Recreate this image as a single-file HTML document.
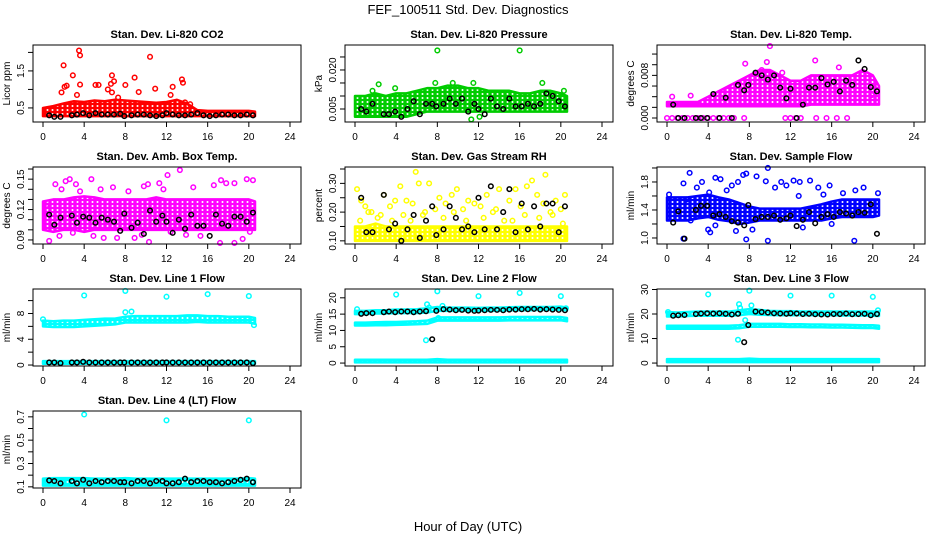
<!DOCTYPE html>
<html><head><meta charset="utf-8"><style>
body{margin:0;background:#fff;width:936px;height:540px;overflow:hidden}
svg{display:block;font-family:"Liberation Sans",Arial,sans-serif}
</style></head><body>
<svg id="chart" width="936" height="540" viewBox="0 0 936 540" xmlns="http://www.w3.org/2000/svg">
<defs id="defs"></defs>
<text x="468" y="14" text-anchor="middle" font-size="13">FEF_100511  Std. Dev. Diagnostics</text>
<text x="468" y="531" text-anchor="middle" font-size="13">Hour of Day (UTC)</text>
</svg>
<script>
// ---- shared ----
const xTicks=[0,4,8,12,16,20,24];
const bandHours=[0,1,2,3,4,5,6,7,8,9,10,11,12,13,14,15,16,17,18,19,20,20.6];
const blackHours=[0.6,1.1,1.7,2.8,3.3,3.9,4.5,5.1,5.7,6.3,6.9,7.5,7.9,8.6,9.2,9.8,10.4,11.0,11.6,12.0,12.6,13.2,13.8,14.4,15.0,15.6,16.2,16.8,17.4,18.0,18.6,19.2,19.8,20.4];

// ---- P1 CO2 ----
const co2Lo=[0.28,0.28,0.28,0.28,0.28,0.28,0.28,0.28,0.28,0.28,0.28,0.28,0.28,0.28,0.28,0.28,0.28,0.28,0.28,0.28,0.28,0.28];
const co2Hi=[0.5,0.55,0.62,0.68,0.66,0.7,0.68,0.72,0.7,0.68,0.66,0.64,0.66,0.72,0.62,0.44,0.42,0.42,0.42,0.42,0.42,0.4];
const co2OutH=[3.5,3.6,2.0,2.9,3.6,2.3,2.1,1.8,5.1,5.4,6.7,6.9,6.6,6.3,6.7,8.0,8.9,10.4,10.9,12.6,13.5,13.6,3.3,7.3,9.3,12.4,14.3,13.8];
const co2OutV=[2.05,1.92,1.65,1.38,1.13,1.1,1.07,0.92,1.12,1.12,1.38,1.22,1.15,1.0,0.92,1.12,1.32,1.88,1.02,1.07,1.27,1.18,0.85,0.78,0.93,0.85,0.6,0.65];
const co2Black=[0.3,0.26,0.26,0.3,0.32,0.36,0.3,0.36,0.32,0.32,0.32,0.34,0.28,0.3,0.32,0.32,0.3,0.28,0.3,0.36,0.32,0.3,0.3,0.32,0.36,0.3,0.28,0.3,0.32,0.32,0.3,0.3,0.32,0.3];

// ---- P2 Pressure ----
const presLo=[0.002,0.002,0.002,0.002,0.002,0.002,0.003,0.004,0.004,0.004,0.004,0.004,0.004,0.004,0.004,0.004,0.004,0.004,0.004,0.004,0.004,0.004];
const presHi=[0.010,0.010,0.011,0.010,0.011,0.011,0.012,0.013,0.013,0.014,0.014,0.013,0.013,0.012,0.012,0.012,0.011,0.011,0.012,0.012,0.011,0.010];
const presOutH=[8,16,2.3,18.2,11.3,12.1,3.9,7.8,1.7,20.3,9.5,11.5];
const presOutV=[0.0275,0.0275,0.0145,0.015,0.001,0.002,0.013,0.015,0.012,0.012,0.015,0.015];
const presBlack=[0.005,0.004,0.007,0.003,0.003,0.004,0.002,0.005,0.008,0.003,0.007,0.007,0.006,0.007,0.009,0.007,0.009,0.004,0.007,0.005,0.003,0.009,0.006,0.005,0.009,0.006,0.006,0.007,0.006,0.007,0.011,0.010,0.008,0.006];

// ---- P3 Li-820 Temp ----
const tempLo=[0.0022,0.0022,0.0022,0.0022,0.0022,0.0022,0.0022,0.0022,0.0022,0.0022,0.0022,0.0022,0.0022,0.0022,0.0025,0.0025,0.0025,0.0025,0.0025,0.0025,0.0025,0.0025];
const tempHi=[0.003,0.003,0.003,0.003,0.004,0.005,0.006,0.007,0.008,0.009,0.009,0.008,0.007,0.007,0.008,0.008,0.008,0.008,0.008,0.009,0.008,0.006];
const tempZeroH=[0,0.5,1,1.5,2,2.5,3,3.5,4,4.5,5,5.5,6,6.5,7.5,11.5,12,12.5,13,14.5,15.5,16.5,17.5];
const tempZeroV=[0,0,0,0,0,0,0,0,0,0,0,0,0,0,0,0,0,0,0,0,0,0,0];
const tempOutH=[10,9.7,14.4,7.6,9.2,11.2,19.9,16.7,0.5,2.3];
const tempOutV=[0.0135,0.0105,0.0108,0.0102,0.009,0.0085,0.0043,0.0095,0.004,0.0042];
const tempBlack=[0.0025,0,0,0,0,0,0.0045,0,0.0038,0,0.0062,0.0052,0.0062,0.0085,0.008,0.0072,0.008,0.0057,0.0037,0.0055,0,0.0025,0.0057,0.0057,0.0075,0.0063,0.0068,0.005,0.007,0.0062,0.0108,0.0092,0.0058,0.005];

// ---- P4 Amb box temp ----
const ambLo=[0.100,0.098,0.100,0.100,0.098,0.100,0.100,0.100,0.100,0.100,0.100,0.100,0.100,0.100,0.100,0.100,0.100,0.100,0.100,0.100,0.100,0.100];
const ambHi=[0.128,0.13,0.13,0.132,0.133,0.132,0.13,0.13,0.13,0.13,0.13,0.132,0.13,0.13,0.13,0.13,0.13,0.13,0.13,0.13,0.13,0.128];
const ambOutH=[0.6,1.2,2.2,2.6,3.2,4.7,5.6,6.8,8.3,9.8,10.2,11.3,12.1,13.3,14.6,16.6,17.3,17.8,18.6,19.8,20.4,0.3,1.6,2.9,4.9,5.9,7.2,9.6,10.3,12.4,13.9,15.3,17.2,18.6,19.4,20.1,1.8,3.6,8.9,11.7];
const ambOutV=[0.089,0.145,0.148,0.15,0.145,0.15,0.14,0.142,0.138,0.143,0.145,0.146,0.154,0.159,0.142,0.144,0.149,0.146,0.146,0.15,0.149,0.124,0.094,0.097,0.094,0.092,0.092,0.095,0.088,0.098,0.095,0.094,0.087,0.087,0.091,0.098,0.14,0.138,0.092,0.14];
const ambBlack=[0.115,0.105,0.112,0.114,0.107,0.113,0.112,0.107,0.112,0.11,0.108,0.099,0.116,0.102,0.107,0.096,0.119,0.108,0.114,0.108,0.097,0.11,0.101,0.115,0.104,0.104,0.094,0.115,0.106,0.104,0.113,0.113,0.108,0.117];

// ---- P5 Gas stream RH ----
const rhLo=[0.10,0.10,0.10,0.10,0.10,0.10,0.10,0.10,0.10,0.10,0.10,0.10,0.10,0.10,0.10,0.10,0.10,0.10,0.10,0.10,0.10,0.10];
const rhHi=[0.15,0.15,0.16,0.15,0.15,0.15,0.15,0.15,0.15,0.15,0.15,0.15,0.15,0.15,0.15,0.15,0.15,0.15,0.15,0.15,0.15,0.15];
const rhOutH=[0.2,0.6,1.0,1.6,2.2,2.8,3.4,3.9,4.4,5.0,5.6,5.9,6.2,6.6,7.2,7.8,8.2,8.8,9.4,9.9,10.5,11.0,11.6,12.2,12.8,13.4,14.0,14.5,15.0,15.6,16.1,16.7,17.2,17.7,18.3,18.5,19.0,19.5,20.0,20.4,0.5,1.3,2.5,3.6,4.7,5.4,6.8,8.6,9.6,10.8,12.5,13.7,15.3,16.5,17.9,19.2,20.2];
const rhOutV=[0.28,0.24,0.22,0.2,0.18,0.26,0.22,0.24,0.29,0.24,0.23,0.34,0.3,0.19,0.3,0.21,0.25,0.23,0.26,0.28,0.21,0.24,0.23,0.22,0.26,0.2,0.28,0.17,0.24,0.28,0.22,0.29,0.31,0.26,0.23,0.33,0.2,0.24,0.21,0.26,0.17,0.2,0.19,0.17,0.19,0.17,0.2,0.18,0.2,0.17,0.18,0.21,0.17,0.19,0.18,0.19,0.16];
const rhBlack=[0.25,0.13,0.13,0.26,0.14,0.16,0.10,0.14,0.19,0.11,0.17,0.22,0.12,0.14,0.22,0.18,0.14,0.15,0.13,0.25,0.14,0.29,0.14,0.20,0.28,0.13,0.23,0.14,0.22,0.15,0.23,0.23,0.13,0.22];

// ---- P6 Sample flow ----
const sfLo=[1.25,1.25,1.25,1.28,1.3,1.26,1.24,1.2,1.22,1.25,1.25,1.25,1.25,1.25,1.25,1.25,1.28,1.3,1.3,1.3,1.3,1.32];
const sfHi=[1.58,1.58,1.58,1.6,1.62,1.58,1.55,1.5,1.45,1.42,1.42,1.42,1.42,1.42,1.45,1.48,1.52,1.55,1.55,1.55,1.55,1.55];
const sfOutH=[0.2,1.6,2.2,1.9,2.9,3.4,4.1,4.7,5.2,5.8,6.3,6.9,7.4,7.7,8.7,9.6,9.8,10.5,11.1,11.6,12.3,12.9,13.9,14.7,15.8,17.1,18.3,19.1,20.5,1.6,4.0,4.2,7.7,9.8,18.2,2.3,4.7,6.7,8.3,13.2,16.0,12.8,15.2];
const sfOutV=[1.62,1.78,1.93,1.55,1.72,1.8,1.65,1.86,1.84,1.68,1.75,1.8,1.9,1.92,1.88,1.81,2.0,1.72,1.8,1.75,1.82,1.8,1.82,1.72,1.75,1.64,1.68,1.72,1.64,0.99,1.12,1.08,0.98,0.96,0.96,1.25,1.18,1.1,1.12,1.15,1.2,1.6,1.62];
const sfBlack=[1.22,1.38,0.99,1.4,1.46,1.46,1.32,1.34,1.3,1.24,1.22,1.18,1.47,1.27,1.3,1.3,1.32,1.26,1.28,1.32,1.17,1.26,1.37,1.21,1.3,1.34,1.3,1.37,1.35,1.32,1.37,1.36,1.48,1.06];

// ---- P7 Line 1 flow ----
const l1Lo=[6.0,5.9,5.9,5.9,6.0,6.1,6.2,6.3,6.6,6.6,6.6,6.6,6.6,6.6,6.6,6.7,6.6,6.6,6.6,6.6,6.6,6.4];
const l1Hi=[6.9,6.8,6.9,6.9,7.0,7.1,7.2,7.2,7.5,7.6,7.6,7.6,7.6,7.6,7.7,7.7,7.6,7.6,7.5,7.5,7.5,7.3];
const l1BaseLo=[0.2,0.2,0.2,0.2,0.2,0.2,0.2,0.2,0.2,0.2,0.2,0.2,0.2,0.2,0.2,0.2,0.2,0.2,0.2,0.2,0.2,0.2];
const l1BaseHi=[0.6,0.6,0.6,0.6,0.6,0.6,0.6,0.6,0.6,0.6,0.6,0.6,0.6,0.6,0.6,0.6,0.6,0.6,0.6,0.6,0.6,0.6];
const l1OutH=[4,8,12,16,20,8,8.6,0,20.5];
const l1OutV=[10.8,11.5,10.6,11.0,10.7,8.2,8.3,7.1,6.2];
const l1Black=[0.4,0.4,0.3,0.4,0.4,0.5,0.4,0.4,0.4,0.4,0.4,0.4,0.4,0.4,0.4,0.4,0.4,0.4,0.4,0.4,0.4,0.4,0.4,0.4,0.4,0.4,0.4,0.4,0.4,0.4,0.4,0.4,0.4,0.3];

// ---- P8 Line 2 flow ----
const l2UpLo=[15.0,15.0,15.2,15.2,15.3,15.3,15.3,15.5,16.0,16.0,16.0,16.0,16.0,16.0,16.0,16.2,16.2,16.2,16.3,16.3,16.3,16.2];
const l2UpHi=[16.0,16.0,16.2,16.2,16.4,16.4,16.5,16.8,17.2,17.0,17.0,17.0,16.9,17.0,17.0,17.1,17.2,17.2,17.2,17.2,17.3,17.0];
const l2MidLo=[11.5,11.5,11.6,11.6,11.7,11.8,11.9,12.0,13.0,13.0,13.0,13.0,13.0,13.0,13.0,13.1,13.1,13.1,13.1,13.1,13.1,12.8];
const l2MidHi=[12.4,12.4,12.5,12.6,12.6,12.7,12.8,13.0,14.0,14.0,14.0,14.0,14.0,14.0,14.0,14.1,14.1,14.1,14.1,14.1,14.1,13.8];
const l2BaseLo=[0.2,0.2,0.2,0.2,0.2,0.2,0.2,0.2,0.2,0.2,0.2,0.2,0.2,0.2,0.2,0.2,0.2,0.2,0.2,0.2,0.2,0.2];
const l2BaseHi=[1.0,1.0,1.0,1.0,1.0,1.0,1.0,1.0,1.2,1.0,1.0,1.0,1.0,1.0,1.0,1.0,1.0,1.0,1.0,1.0,1.0,1.0];
const l2OutH=[4,8,12,16,20,7,7.2,6.9,8.5,0.2,20.5,8.1];
const l2OutV=[21,22,20.5,21.5,20.5,18,17,7,17.5,16.5,16.8,13.8];
const l2Black=[15.1,15.3,15.3,15.6,15.8,15.6,15.8,15.8,15.6,15.8,15.9,7.3,16.0,16.5,16.4,16.2,16.3,16.1,16.0,16.1,16.2,16.3,16.3,16.2,16.4,16.4,16.5,16.5,16.6,16.4,16.5,16.4,16.3,16.2];

// ---- P9 Line 3 flow ----
const l3UpLo=[19.0,19.0,19.2,19.3,19.3,19.3,19.3,19.5,20.0,19.7,19.6,19.5,19.5,19.5,19.5,19.5,19.5,19.4,19.4,19.4,19.3,19.2];
const l3UpHi=[20.8,20.6,20.8,21.0,21.0,21.0,21.0,21.5,22.0,21.7,21.3,21.2,21.2,21.0,21.0,21.0,21.0,21.0,21.0,21.0,21.0,21.0];
const l3MidLo=[14.0,14.0,14.0,14.0,14.0,14.0,14.0,14.2,14.8,14.8,14.8,14.8,14.7,14.7,14.6,14.6,14.5,14.5,14.4,14.3,14.3,14.0];
const l3MidHi=[15.2,15.2,15.2,15.2,15.2,15.2,15.2,15.4,16.0,16.0,16.0,16.0,15.8,15.8,15.7,15.7,15.6,15.6,15.5,15.4,15.4,15.2];
const l3BaseLo=[0.4,0.4,0.4,0.4,0.4,0.4,0.4,0.4,0.4,0.4,0.4,0.4,0.4,0.4,0.4,0.4,0.4,0.4,0.4,0.4,0.4,0.4];
const l3BaseHi=[1.6,1.6,1.6,1.6,1.6,1.6,1.6,1.6,1.8,1.6,1.6,1.6,1.6,1.6,1.6,1.6,1.6,1.6,1.6,1.6,1.6,1.6];
const l3OutH=[4,8,12,16,20,7,7.1,6.9,8.2,7.6,0.1,20.5];
const l3OutV=[28,29.5,27.5,27.5,27,24,22.5,9.5,23.5,17.5,20.8,21.5];
const l3Black=[19.3,19.5,19.6,20.0,20.2,20.3,20.2,20.3,20.1,19.8,20.1,8.5,15.5,21.0,20.8,20.6,20.3,20.2,20.1,20.3,20.2,20.0,20.1,19.9,19.8,19.8,20.0,20.0,20.2,19.9,20.0,20.1,19.5,20.0];

// ---- P10 Line 4 flow ----
const l4Lo=[0.11,0.11,0.11,0.11,0.11,0.11,0.11,0.11,0.11,0.11,0.11,0.11,0.11,0.11,0.11,0.11,0.11,0.11,0.11,0.11,0.11,0.11];
const l4Hi=[0.17,0.175,0.175,0.175,0.175,0.17,0.17,0.17,0.175,0.17,0.17,0.17,0.17,0.17,0.17,0.17,0.17,0.17,0.17,0.17,0.175,0.17];
const l4OutH=[4,12,20];
const l4OutV=[0.72,0.67,0.67];
const l4Black=[0.155,0.15,0.13,0.15,0.13,0.16,0.13,0.15,0.14,0.15,0.15,0.14,0.14,0.13,0.15,0.15,0.13,0.15,0.15,0.13,0.13,0.14,0.17,0.14,0.15,0.15,0.14,0.14,0.13,0.14,0.15,0.16,0.17,0.14];

const panels=[
 {name:"co2",title:"Stan. Dev. Li-820 CO2",ylab:"Licor ppm",col:0,row:0,ymin:0.12,ymax:2.2,ticks:[0.5,1.0,1.5,2.0],labels:["0.5","","1.5",""],color:"#ff0000",
  bands:[[co2Lo,co2Hi]],outs:[[co2OutH,co2OutV]],black:co2Black},
 {name:"pressure",title:"Stan. Dev. Li-820 Pressure",ylab:"kPa",col:1,row:0,ymin:0.0,ymax:0.0296,ticks:[0.005,0.010,0.015,0.020,0.025],labels:["0.005","","","0.020",""],color:"#00cc00",
  bands:[[presLo,presHi]],outs:[[presOutH,presOutV]],black:presBlack},
 {name:"li820-temp",title:"Stan. Dev. Li-820 Temp.",ylab:"degrees C",col:2,row:0,ymin:-0.00075,ymax:0.0137,ticks:[0,0.002,0.004,0.006,0.008,0.010,0.012],labels:["0.000","","","","0.008","",""],color:"#ff00ff",
  bands:[[tempLo,tempHi]],outs:[[tempZeroH,tempZeroV],[tempOutH,tempOutV]],black:tempBlack},
 {name:"amb-box-temp",title:"Stan. Dev. Amb. Box Temp.",ylab:"degrees C",col:0,row:1,ymin:0.086,ymax:0.162,ticks:[0.09,0.10,0.11,0.12,0.13,0.14,0.15,0.16],labels:["0.09","","","0.12","","","0.15",""],color:"#ff00ff",
  bands:[[ambLo,ambHi]],outs:[[ambOutH,ambOutV]],black:ambBlack},
 {name:"gas-stream-rh",title:"Stan. Dev. Gas Stream RH",ylab:"percent",col:1,row:1,ymin:0.089,ymax:0.357,ticks:[0.10,0.15,0.20,0.25,0.30,0.35],labels:["0.10","","0.20","","0.30",""],color:"#ffff00",
  bands:[[rhLo,rhHi]],outs:[[rhOutH,rhOutV]],black:rhBlack},
 {name:"sample-flow",title:"Stan. Dev. Sample Flow",ylab:"ml/min",col:2,row:1,ymin:0.914,ymax:2.014,ticks:[1.0,1.2,1.4,1.6,1.8,2.0],labels:["1.0","","1.4","","1.8",""],color:"#0000ff",
  bands:[[sfLo,sfHi]],outs:[[sfOutH,sfOutV]],black:sfBlack},
 {name:"line1-flow",title:"Stan. Dev. Line 1 Flow",ylab:"ml/min",col:0,row:2,ymin:-0.15,ymax:11.8,ticks:[0,2,4,6,8,10],labels:["0","","4","","8",""],color:"#00ffff",
  bands:[[l1Lo,l1Hi],[l1BaseLo,l1BaseHi]],outs:[[l1OutH,l1OutV]],black:l1Black},
 {name:"line2-flow",title:"Stan. Dev. Line 2 Flow",ylab:"ml/min",col:1,row:2,ymin:-0.9,ymax:22.7,ticks:[0,5,10,15,20],labels:["0","5","10","15","20"],color:"#00ffff",
  bands:[[l2UpLo,l2UpHi],[l2MidLo,l2MidHi],[l2BaseLo,l2BaseHi]],outs:[[l2OutH,l2OutV]],black:l2Black},
 {name:"line3-flow",title:"Stan. Dev. Line 3 Flow",ylab:"ml/min",col:2,row:2,ymin:-1.2,ymax:30.2,ticks:[0,10,20,30],labels:["0","10","20","30"],color:"#00ffff",
  bands:[[l3UpLo,l3UpHi],[l3MidLo,l3MidHi],[l3BaseLo,l3BaseHi]],outs:[[l3OutH,l3OutV]],black:l3Black},
 {name:"line4-flow",title:"Stan. Dev. Line 4 (LT) Flow",ylab:"ml/min",col:0,row:3,ymin:0.09,ymax:0.75,ticks:[0.1,0.2,0.3,0.4,0.5,0.6,0.7],labels:["0.1","","0.3","","0.5","","0.7"],color:"#00ffff",
  bands:[[l4Lo,l4Hi]],outs:[[l4OutH,l4OutV]],black:l4Black}
];

const NS="http://www.w3.org/2000/svg";
const svg=document.getElementById('chart');
const defs=document.getElementById('defs');
function mk(tag,attrs,parent){const e=document.createElementNS(NS,tag);for(const k in attrs)e.setAttribute(k,attrs[k]);(parent||svg).appendChild(e);return e;}

panels.forEach(p=>{
  const left=33+312*p.col, w=268, top=45+122*p.row, h=77, bottom=top+h;
  const x0=left+10, pxh=247/24;
  const X=v=>x0+v*pxh;
  const Y=v=>bottom-(v-p.ymin)/(p.ymax-p.ymin)*h;
  const g=mk('g',{});
  
  
  const clipId='clip-'+p.name;
  const cp=mk('clipPath',{id:clipId},g);
  mk('rect',{x:left-3,y:top-3,width:w+6,height:h+6},cp);
  const patId='pat-'+p.name;
  const pat=mk('pattern',{id:patId,width:5,height:4,patternUnits:'userSpaceOnUse'},defs);
  mk('rect',{x:0,y:0,width:5,height:4,fill:p.color},pat);
  mk('circle',{cx:2.5,cy:2,r:1.0,fill:'#fff'},pat);
  const marks=mk('g',{'clip-path':'url(#'+clipId+')'},g);
  p.bands.forEach((b,bi)=>{
    const lo=b[0],hi=b[1];
    let pts=bandHours.map((hh,i)=>X(hh)+','+Y(hi[i]));
    for(let i=bandHours.length-1;i>=0;i--)pts.push(X(bandHours[i])+','+Y(lo[i]));
    const poly=mk('polygon',{points:pts.join(' '),fill:'url(#'+patId+')',stroke:p.color,'stroke-width':2.5,'stroke-linejoin':'round'},marks);
    
    
  });
  p.outs.forEach(o=>{
    o[0].forEach((hh,i)=>{
      const c=mk('circle',{cx:X(hh),cy:Y(o[1][i]),r:2.3,fill:'none',stroke:p.color,'stroke-width':1.5},marks);
      
      
    });
  });
  blackHours.forEach((hh,i)=>{
    const c=mk('circle',{cx:X(hh),cy:Y(p.black[i]),r:2.3,fill:'none',stroke:'#000','stroke-width':1.5},marks);
    
    
  });
  const box=mk('rect',{x:left,y:top,width:w,height:h,fill:'none',stroke:'#000','stroke-width':1},g);
  
  
  xTicks.forEach(t=>{
    mk('line',{x1:X(t),x2:X(t),y1:bottom,y2:bottom+5,stroke:'#000'},g);
    const tx=mk('text',{x:X(t),y:bottom+18,'text-anchor':'middle','font-size':10},g);
    tx.textContent=t;
    
    
  });
  p.ticks.forEach((t,i)=>{
    mk('line',{x1:left,x2:left-5,y1:Y(t),y2:Y(t),stroke:'#000'},g);
    if(p.labels[i]){
      const ty=mk('text',{x:0,y:0,'text-anchor':'middle','font-size':10,transform:'translate('+(left-9)+','+Y(t)+') rotate(-90)'},g);
      ty.textContent=p.labels[i];
      
      
    }
  });
  const yl=mk('text',{x:0,y:0,'text-anchor':'middle','font-size':10,transform:'translate('+(left-23)+','+(top+h/2)+') rotate(-90)'},g);
  yl.textContent=p.ylab;
  
  
  const tt=mk('text',{x:left+w/2,y:top-7,'text-anchor':'middle','font-size':11,'font-weight':'bold'},g);
  tt.textContent=p.title;
  
  
});
</script>
</body></html>
